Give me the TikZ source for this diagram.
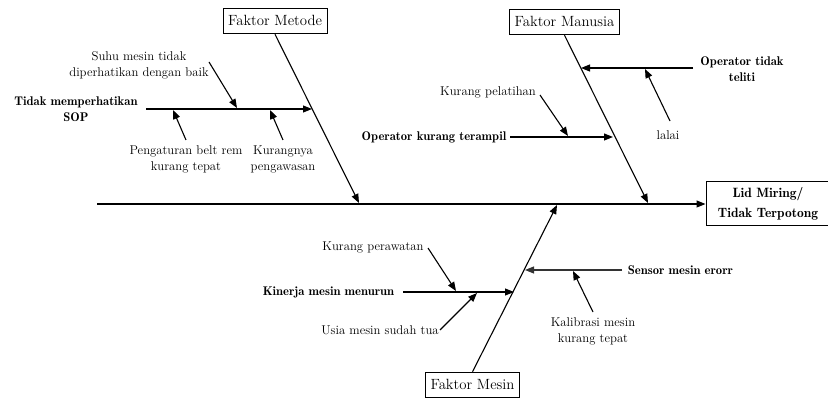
\documentclass[tikz,border=0pt]{standalone}
\usetikzlibrary{arrows.meta}
\begin{document}
\begin{tikzpicture}[x=1pt,y=-1pt,
  lbl/.style={font=\fontsize{12.7}{16}\selectfont, align=center, inner sep=0pt},
  blbl/.style={font=\fontsize{12.6}{16}\selectfont\fontseries{b}\selectfont, align=center, inner sep=0pt},
  factor/.style={draw, line width=1pt, font=\fontsize{14.8}{18}\selectfont, text height=12pt, text depth=3.5pt, inner xsep=5pt, inner ysep=5pt},
  effect/.style={draw, line width=1pt, font=\fontsize{13.5}{20}\selectfont\fontseries{b}\selectfont, align=center, minimum width=124pt, minimum height=44pt},
  arr/.style={line width=1.1pt, -{Triangle[length=9pt,width=7pt]}}]
\useasboundingbox (0,0) rectangle (828,398);

% effect and factors
\node[effect] (lid) at (768,204) {Lid Miring/\\Tidak Terpotong};
\node[factor] (metode) at (275,21) {Faktor Metode};
\node[factor] (manusia) at (564.5,22) {Faktor Manusia};
\node[factor] (mesin) at (472.5,385) {Faktor Mesin};

% spine
\coordinate (tail) at (97,204);
\draw[arr] (tail) -- (lid.west);

% main bones
\coordinate (mj) at (359,203);
\coordinate (hj) at (648,203);
\coordinate (sj) at (557,205);
\draw[arr] (metode.south) -- (mj);
\draw[arr] (manusia.south) -- (hj);
\draw[arr] (mesin.north) -- (sj);

% ---- Faktor Metode
\node[blbl] (sop) at (76,109) {Tidak memperhatikan\\SOP};
\coordinate (sopS) at (146,109);
\coordinate (sopE) at (312,109);
\draw[arr] (sopS) -- (sopE);

\node[lbl] (suhu) at (139,65) {Suhu mesin tidak\\diperhatikan dengan baik};
\coordinate (suhuS) at (209,62);
\coordinate (suhuE) at (237,108);
\draw[arr] (suhuS) -- (suhuE);

\node[lbl] (atur) at (186,159) {Pengaturan belt rem\\kurang tepat};
\coordinate (aturS) at (186,140);
\coordinate (aturE) at (173,110);
\draw[arr] (aturS) -- (aturE);

\node[lbl] (awas) at (283,159) {Kurangnya\\pengawasan};
\coordinate (awasS) at (283,140);
\coordinate (awasE) at (270,110);
\draw[arr] (awasS) -- (awasE);

% ---- Faktor Manusia
\node[blbl] (teliti) at (742,69.5) {Operator tidak\\teliti};
\coordinate (telitiS) at (693,68);
\coordinate (telitiE) at (581,68);
\draw[arr] (telitiS) -- (telitiE);

\node[lbl] (lalai) at (668,135) {lalai};
\coordinate (lalaiS) at (670,121);
\coordinate (lalaiE) at (645,69);
\draw[arr] (lalaiS) -- (lalaiE);

\node[lbl] (latih) at (488,92) {Kurang pelatihan};
\coordinate (latihS) at (540,95);
\coordinate (latihE) at (568,136);
\draw[arr] (latihS) -- (latihE);

\node[blbl] (terampil) at (434,137) {Operator kurang terampil};
\coordinate (terampilS) at (510,137);
\coordinate (terampilE) at (613,137);
\draw[arr] (terampilS) -- (terampilE);

% ---- Faktor Mesin
\node[blbl] (kinerja) at (328.5,292) {Kinerja mesin menurun};
\coordinate (kinerjaS) at (403,292);
\coordinate (kinerjaE) at (514,292);
\draw[arr] (kinerjaS) -- (kinerjaE);

\node[lbl] (rawat) at (373,247) {Kurang perawatan};
\coordinate (rawatS) at (428,248);
\coordinate (rawatE) at (456,291);
\draw[arr] (rawatS) -- (rawatE);

\node[lbl] (usia) at (380,330) {Usia mesin sudah tua};
\coordinate (usiaS) at (440,330);
\coordinate (usiaE) at (477,293);
\draw[arr] (usiaS) -- (usiaE);

\node[blbl] (sensor) at (680.5,270) {Sensor mesin erorr};
\coordinate (sensorS) at (622,270);
\coordinate (sensorE) at (525,270);
\draw[arr, black!80] (sensorS) -- (sensorE);

\node[lbl] (kalib) at (593,331) {Kalibrasi mesin\\kurang tepat};
\coordinate (kalibS) at (593,312);
\coordinate (kalibE) at (573,271);
\draw[arr] (kalibS) -- (kalibE);
\end{tikzpicture}
\end{document}
